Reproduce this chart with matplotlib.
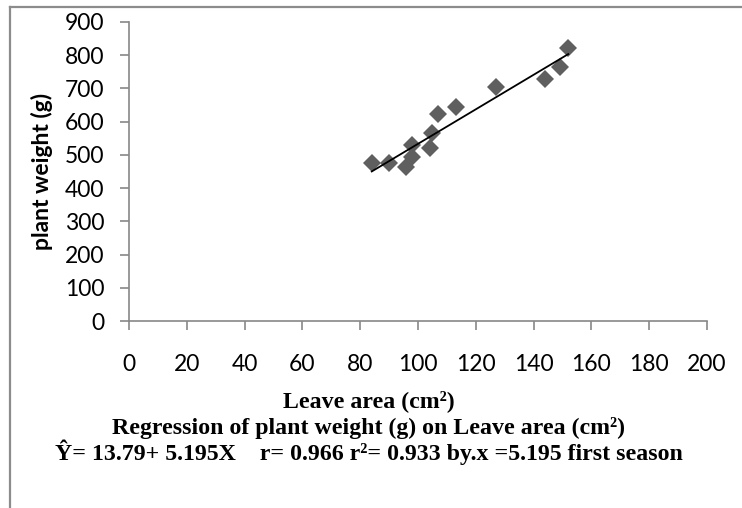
import numpy as np
import matplotlib.pyplot as plt
from matplotlib.lines import Line2D

# data (leaf area cm2, plant weight g)
leaf_area = [84, 90, 96, 98, 98, 104, 105, 107, 113, 127, 144, 149, 152]
plant_weight = [475, 475, 465, 495, 530, 520, 565, 622, 643, 705, 728, 766, 823]

# regression from the caption
intercept = 13.79
slope = 5.195

x_ticks = [0, 20, 40, 60, 80, 100, 120, 140, 160, 180, 200]
y_ticks = [0, 100, 200, 300, 400, 500, 600, 700, 800, 900]

caption_lines = [
    "Leave area (cm\u00b2)",
    "Regression of plant weight (g) on Leave area (cm\u00b2)",
    "\u0176= 13.79+ 5.195X    r= 0.966 r\u00b2= 0.933 by.x =5.195 first season",
]

W, H = 742, 508
fig = plt.figure(figsize=(W / 100, H / 100), dpi=100)
ax = fig.add_axes([129 / W, 1 - 321 / H, (707 - 129) / W, (321 - 22) / H])

ax.plot(leaf_area, plant_weight, linestyle="none", marker="D",
        markersize=9.2, color="#5f5f5f", markeredgewidth=0, zorder=2)

x_fit = np.array([min(leaf_area), max(leaf_area)])
ax.plot(x_fit, intercept + slope * x_fit, color="black", lw=1.3, zorder=3)

ax.set_xlim(0, 200)
ax.set_ylim(0, 900)
ax.set_xticks(x_ticks)
ax.set_yticks(y_ticks)

for s in ["top", "right"]:
    ax.spines[s].set_visible(False)
for s in ["left", "bottom"]:
    ax.spines[s].set_color("#888888")
    ax.spines[s].set_linewidth(1.2)

ax.tick_params(axis="both", direction="out", length=6.5, width=1.2,
               color="#888888", labelsize=16.5, labelcolor="black")
ax.tick_params(axis="x", pad=17)
ax.tick_params(axis="y", pad=11)
for lab in ax.get_xticklabels() + ax.get_yticklabels():
    lab.set_family("Lato")

ax.set_ylabel("plant weight (g)", family="Lato", fontweight="bold",
              fontsize=16.5, labelpad=9)

# caption under the chart, centred on the figure
baselines = [407, 434, 460]
for txt, yb in zip(caption_lines, baselines):
    fig.text(369 / W, 1 - yb / H, txt, ha="center", va="baseline",
             family="Liberation Serif", fontweight="bold", fontsize=17.2)

# outer frame (left and top edge visible)
fx = 10 / W
fy = 1 - 7 / H
fig.add_artist(Line2D([fx, fx], [0, fy], transform=fig.transFigure,
                      color="#8c8c8c", lw=1.6))
fig.add_artist(Line2D([fx, 1], [fy, fy], transform=fig.transFigure,
                      color="#8c8c8c", lw=1.6))

fig.savefig("out.png", dpi=100)
